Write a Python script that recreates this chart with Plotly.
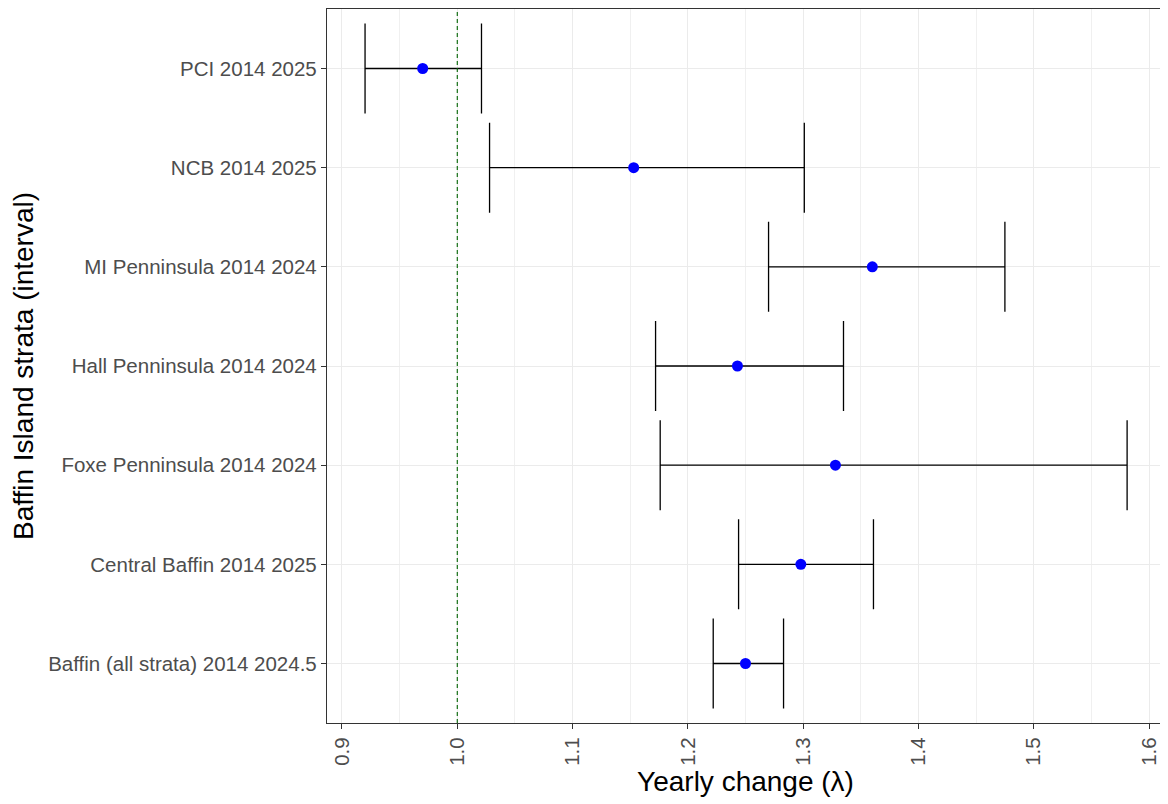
import plotly.graph_objects as go

# strata, bottom to top
strata = [
    "Baffin (all strata) 2014 2024.5",
    "Central Baffin 2014 2025",
    "Foxe Penninsula 2014 2024",
    "Hall Penninsula 2014 2024",
    "MI Penninsula 2014 2024",
    "NCB 2014 2025",
    "PCI 2014 2025",
]
lam = [1.250, 1.298, 1.328, 1.243, 1.360, 1.153, 0.970]
lam_low = [1.222, 1.244, 1.176, 1.172, 1.270, 1.028, 0.920]
lam_high = [1.283, 1.361, 1.581, 1.335, 1.475, 1.301, 1.021]

x_ticks = [0.9, 1.0, 1.1, 1.2, 1.3, 1.4, 1.5, 1.6]
x_tick_labels = ["0.9", "1.0", "1.1", "1.2", "1.3", "1.4", "1.5", "1.6"]

FONT = "Liberation Sans, Arial, sans-serif"

fig = go.Figure()

fig.add_trace(go.Scatter(
    x=lam, y=strata,
    mode="markers",
    marker=dict(color="#0000FF", size=11),
    error_x=dict(
        type="data", symmetric=False,
        array=[h - m for h, m in zip(lam_high, lam)],
        arrayminus=[m - l for m, l in zip(lam, lam_low)],
        color="black", thickness=1.3, width=45,
    ),
    showlegend=False,
))

# reference line at lambda = 1
fig.add_vline(x=1.0, line=dict(color="#006400", width=1.1, dash="4px,3px"))

# page body adds an 8px offset, so the figure is shrunk to fit the window
fig.update_layout(
    width=1160, height=797,
    margin=dict(l=319, r=4, t=1, b=82, autoexpand=False),
    paper_bgcolor="white",
    plot_bgcolor="white",
    font=dict(family=FONT),
)

fig.update_xaxes(
    range=[0.887, 1.613],
    tickvals=x_ticks, ticktext=x_tick_labels,
    tickangle=-90,
    tickfont=dict(size=20.5, color="#4D4D4D"),
    ticks="outside", ticklen=5, tickcolor="#333333", tickwidth=1.1,
    showgrid=True, gridcolor="#EBEBEB", gridwidth=1.1,
    minor=dict(tickvals=[0.95, 1.05, 1.15, 1.25, 1.35, 1.45, 1.55],
               showgrid=True, gridcolor="#F0F0F0", gridwidth=0.9, ticks=""),
    zeroline=False, automargin=False,
    showline=True, linecolor="#333333", linewidth=1.3, mirror=True,
    title=dict(text="Yearly change (λ)", font=dict(size=28, color="black"), standoff=6),
)

fig.update_yaxes(
    type="category",
    categoryorder="array", categoryarray=strata,
    range=[-0.6, 6.6],
    tickfont=dict(size=20.5, color="#4D4D4D"),
    ticks="outside", ticklen=5, tickcolor="#333333", tickwidth=1.1,
    showgrid=True, gridcolor="#EBEBEB", gridwidth=1.1,
    zeroline=False, automargin=False,
    showline=True, linecolor="#333333", linewidth=1.3, mirror=True,
    title=dict(text="Baffin Island strata (interval)", font=dict(size=28, color="black"), standoff=9),
)

fig.write_html("out.html")
